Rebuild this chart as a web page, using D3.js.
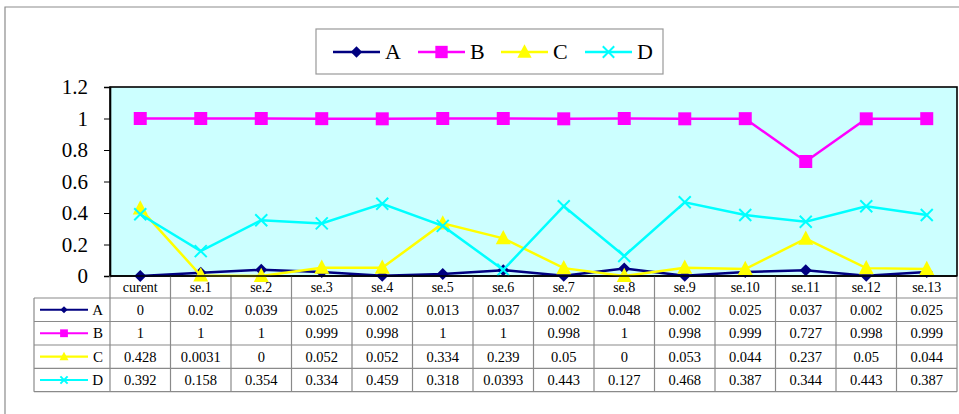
<!DOCTYPE html>
<html>
<head>
<meta charset="utf-8">
<script src="https://cdn.jsdelivr.net/npm/d3@7"></script>
<style>
html,body{margin:0;padding:0;background:#fff;}
svg{display:block;}
svg text{font-family:"Liberation Serif","Times New Roman","DejaVu Serif",serif !important;}
</style>
</head>
<body>
<svg id="chart" width="959" height="414"></svg>
<script>
const categories = ["curent","se.1","se.2","se.3","se.4","se.5","se.6","se.7","se.8","se.9","se.10","se.11","se.12","se.13"];
const seriesNames = ["A","B","C","D"];
const valuesA = [0,0.02,0.039,0.025,0.002,0.013,0.037,0.002,0.048,0.002,0.025,0.037,0.002,0.025];
const valuesB = [1,1,1,0.999,0.998,1,1,0.998,1,0.998,0.999,0.727,0.998,0.999];
const valuesC = [0.428,0.0031,0,0.052,0.052,0.334,0.239,0.05,0,0.053,0.044,0.237,0.05,0.044];
const valuesD = [0.392,0.158,0.354,0.334,0.459,0.318,0.0393,0.443,0.127,0.468,0.387,0.344,0.443,0.387];
const yTicks = [0,0.2,0.4,0.6,0.8,1,1.2];

const series = [
  {name:"A", values:valuesA, color:"#000080", marker:"diamond"},
  {name:"B", values:valuesB, color:"#FF00FF", marker:"square"},
  {name:"C", values:valuesC, color:"#FFFF00", marker:"triangle"},
  {name:"D", values:valuesD, color:"#00FFFF", marker:"x"}
];

const FONT = "Liberation Serif";
const svg = d3.select("#chart");
const plotL = 110, plotR = 957, plotT = 87, plotB = 276;
const tableL = 34;
const rowEdges = [276, 298, 321.5, 345, 368.3, 391.7];

const x = d3.scaleBand().domain(categories).range([plotL, plotR]);
const y = d3.scaleLinear().domain([0, 1.2]).range([plotB, plotT]);

// outer frame
svg.append("path").attr("d", `M5,414 L5,7 L959,7`).attr("fill","none").attr("stroke","#8c8c8c").attr("stroke-width",1.2);

// plot background
svg.append("rect").attr("x", plotL).attr("y", plotT).attr("width", plotR-plotL).attr("height", plotB-plotT)
  .attr("fill", "#CCFFFF").attr("stroke", "#000").attr("stroke-width", 1.6);

// y axis
const yAxis = d3.axisLeft(y).tickValues(yTicks).tickSize(6).tickPadding(16)
  .tickFormat(d => String(+d.toFixed(1)));
const gy = svg.append("g").attr("transform", `translate(${plotL},0)`).call(yAxis)
  .attr("font-family", FONT).attr("font-size", 21);
gy.select(".domain").attr("stroke", "#000").attr("stroke-width", 1.6);
gy.selectAll(".tick line").attr("stroke", "#000");
gy.selectAll(".tick text").attr("font-size", 21).attr("font-family", FONT).attr("fill", "#000");

function markerPath(type, size) {
  const s = size;
  if (type === "diamond") return `M0,${-s} L${s},0 L0,${s} L${-s},0 Z`;
  if (type === "square") return `M${-s},${-s} H${s} V${s} H${-s} Z`;
  if (type === "triangle") return `M0,${-s*1.1} L${s},${s*0.8} L${-s},${s*0.8} Z`;
  return `M${-s},${-s} L${s},${s} M${s},${-s} L${-s},${s}`;
}
const markerSize = {diamond:6, square:6.5, triangle:7.5, x:6};

function drawMarker(g, sr, cx, cy, scale) {
  const m = sr.marker;
  const p = g.append("path").attr("transform", `translate(${cx},${cy})`)
    .attr("d", markerPath(m, markerSize[m]*scale));
  if (m === "x") p.attr("fill","none").attr("stroke", sr.color).attr("stroke-width", 2);
  else p.attr("fill", sr.color).attr("stroke", "none");
}

const line = d3.line().x((d,i) => x(categories[i]) + x.bandwidth()/2).y(d => y(d));

series.forEach(sr => {
  const g = svg.append("g");
  g.append("path").datum(sr.values).attr("d", line).attr("fill","none")
    .attr("stroke", sr.color).attr("stroke-width", 2.5);
  sr.values.forEach((v,i) => drawMarker(g, sr, x(categories[i]) + x.bandwidth()/2, y(v), 1));
});

// legend box
const lg = svg.append("g");
lg.append("rect").attr("x", 316).attr("y", 29).attr("width", 347).attr("height", 45)
  .attr("fill", "#fff").attr("stroke", "#999").attr("stroke-width", 1.2);
const legX = [333, 418, 501, 585];
series.forEach((sr, i) => {
  const lx = legX[i], ly = 52;
  lg.append("line").attr("x1", lx).attr("x2", lx+47).attr("y1", ly).attr("y2", ly)
    .attr("stroke", sr.color).attr("stroke-width", 2.5);
  drawMarker(lg, sr, lx+23.5, ly, 0.95);
  lg.append("text").attr("x", lx+52).attr("y", ly+7).attr("font-family", FONT).attr("font-size", 22).attr("fill","#000").text(sr.name);
});

// data table
const tg = svg.append("g");
const gridColor = "#8a8a8a";
categories.forEach(c => {
  tg.append("text").attr("x", x(c) + x.bandwidth()/2).attr("y", (rowEdges[0]+rowEdges[1])/2 + 5)
    .attr("text-anchor","middle").attr("font-family", FONT).attr("font-size", 14).attr("fill","#000").text(c);
});
series.forEach((sr, r) => {
  const yc = (rowEdges[r+1] + rowEdges[r+2]) / 2;
  tg.append("line").attr("x1", 40).attr("x2", 88).attr("y1", yc).attr("y2", yc)
    .attr("stroke", sr.color).attr("stroke-width", 2.2);
  drawMarker(tg, sr, 64, yc, 0.6);
  tg.append("text").attr("x", 103).attr("y", yc + 5).attr("text-anchor","end")
    .attr("font-family", FONT).attr("font-size", 15).attr("fill","#000").text(sr.name);
  sr.values.forEach((v,i) => {
    tg.append("text").attr("x", x(categories[i]) + x.bandwidth()/2).attr("y", yc + 5)
      .attr("text-anchor","middle").attr("font-family", FONT).attr("font-size", 14.5).attr("fill","#000").text(String(v));
  });
});
categories.forEach((c, i) => {
  if (i === 0) return;
  tg.append("line").attr("x1", x(c)).attr("x2", x(c)).attr("y1", rowEdges[0]).attr("y2", rowEdges[5])
    .attr("stroke", gridColor).attr("stroke-width", 1.2);
});
tg.append("line").attr("x1", plotL).attr("x2", plotL).attr("y1", rowEdges[0]).attr("y2", rowEdges[5])
  .attr("stroke", gridColor).attr("stroke-width", 1.2);
tg.append("line").attr("x1", plotR).attr("x2", plotR).attr("y1", rowEdges[0]).attr("y2", rowEdges[5])
  .attr("stroke", gridColor).attr("stroke-width", 1.2);
tg.append("line").attr("x1", tableL).attr("x2", tableL).attr("y1", rowEdges[1]).attr("y2", rowEdges[5])
  .attr("stroke", gridColor).attr("stroke-width", 1.2);
rowEdges.slice(1).forEach(ry => {
  tg.append("line").attr("x1", tableL).attr("x2", plotR).attr("y1", ry).attr("y2", ry)
    .attr("stroke", gridColor).attr("stroke-width", 1.2);
});
svg.append("line").attr("x1", plotL).attr("x2", plotR).attr("y1", plotB).attr("y2", plotB)
  .attr("stroke", "#000").attr("stroke-width", 1.6);
</script>
</body>
</html>
